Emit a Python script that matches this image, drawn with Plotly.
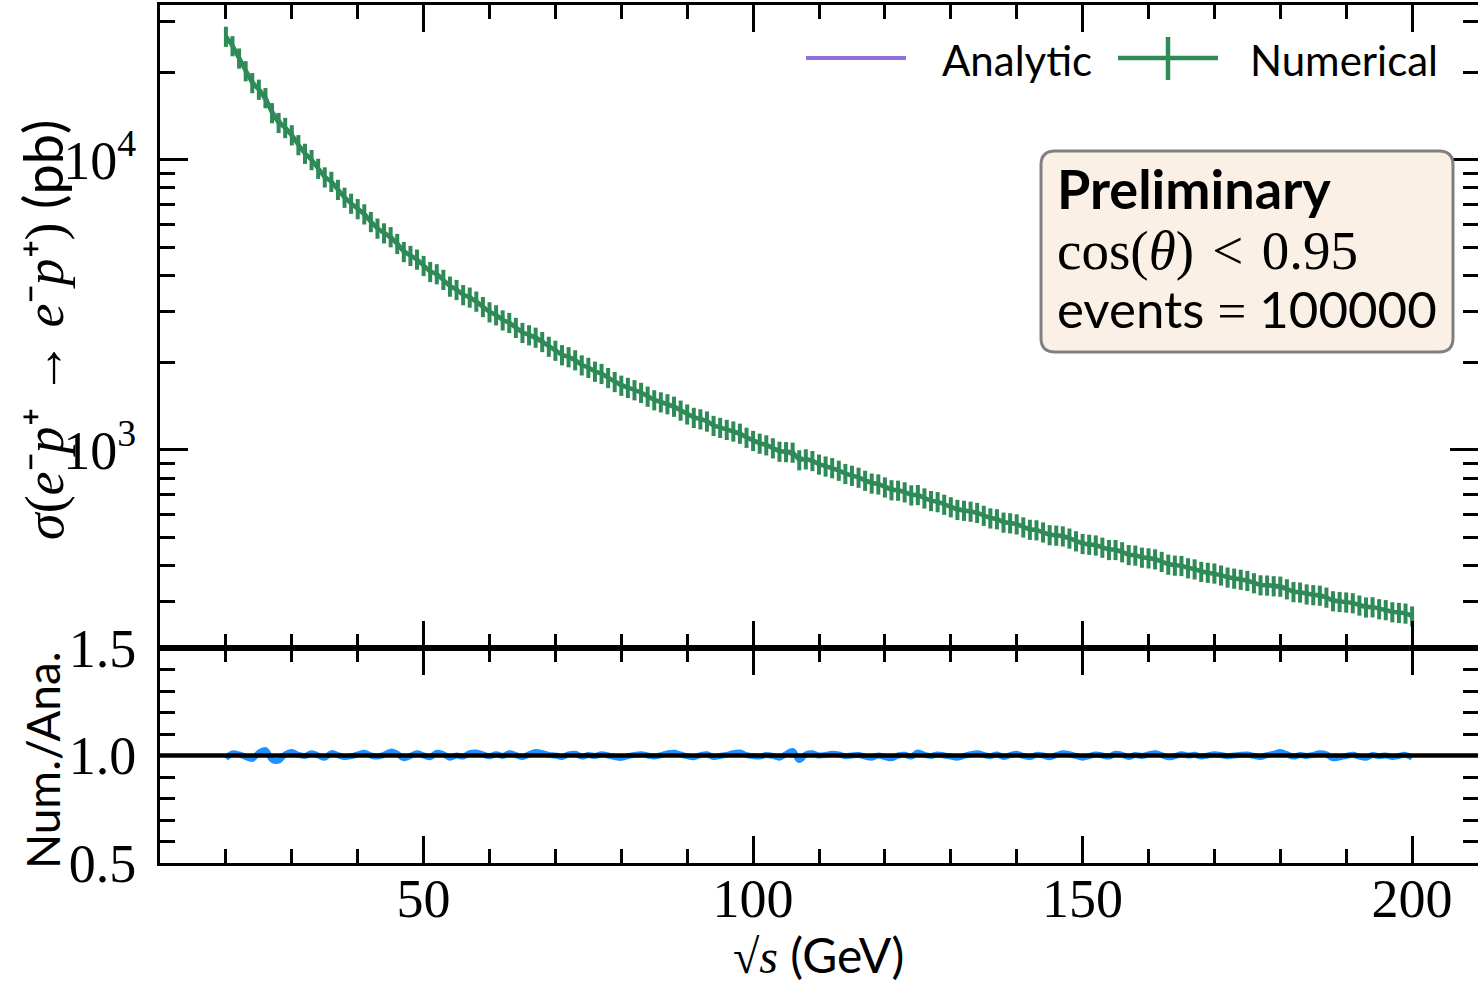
import plotly.graph_objects as go
from plotly.subplots import make_subplots

# sqrt(s) in GeV, one point per GeV
energies = list(range(20, 201))

# analytic cross section (pb)
sigma_analytic = [
    27000, 24490, 22314, 20416, 18750, 17280, 15976, 14815, 13776, 12842,
    12000, 11238, 10547, 9917, 9343, 8816, 8333, 7889, 7479, 7101,
    6750, 6425, 6122, 5841, 5579, 5333, 5104, 4889, 4688, 4498,
    4320, 4152, 3994, 3845, 3704, 3570, 3444, 3324, 3210, 3103,
    3000, 2902, 2810, 2721, 2637, 2556, 2479, 2406, 2336, 2268,
    2204, 2142, 2083, 2027, 1972, 1920, 1870, 1822, 1775, 1731,
    1688, 1646, 1606, 1568, 1531, 1495, 1460, 1427, 1395, 1363,
    1333, 1304, 1276, 1249, 1222, 1197, 1172, 1148, 1125, 1102,
    1080, 1059, 1038, 1018, 998.5, 979.6, 961.2, 943.3, 925.9, 909.0,
    892.6, 876.5, 861.0, 845.8, 831.0, 816.6, 802.6, 789.0, 775.6, 762.6,
    750.0, 737.7, 725.6, 713.9, 702.4, 691.2, 680.3, 669.6, 659.2, 649.0,
    639.1, 629.3, 619.8, 610.5, 601.5, 592.6, 583.9, 575.4, 567.1, 559.0,
    551.0, 543.2, 535.6, 528.1, 520.8, 513.7, 506.7, 499.8, 493.1, 486.5,
    480.0, 473.7, 467.5, 461.4, 455.4, 449.5, 443.8, 438.2, 432.6, 427.2,
    421.9, 416.6, 411.5, 406.5, 401.5, 396.7, 391.9, 387.3, 382.7, 378.1,
    373.7, 369.3, 365.1, 360.9, 356.7, 352.7, 348.7, 344.7, 340.9, 337.1,
    333.3, 329.7, 326.0, 322.5, 319.0, 315.6, 312.2, 308.8, 305.6, 302.3,
    299.2, 296.0, 293.0, 289.9, 287.0, 284.0, 281.1, 278.3, 275.5, 272.7,
    270.0,
]

# numerical / analytic ratio (bottom panel)
ratio = [
    0.987, 1.010, 1.005, 0.993, 0.984, 1.013, 1.025, 0.981, 0.976, 1.006,
    1.016, 1.003, 0.998, 1.010, 1.000, 0.990, 1.011, 1.002, 0.993, 0.997,
    1.005, 1.013, 1.000, 0.995, 1.003, 1.018, 1.008, 0.987, 0.998, 1.010,
    1.000, 0.992, 1.013, 1.006, 0.990, 1.000, 0.995, 1.011, 1.014, 1.005,
    0.997, 1.006, 0.998, 1.010, 1.002, 0.993, 1.005, 1.016, 1.011, 1.003,
    1.000, 0.993, 1.005, 1.008, 0.995, 1.002, 0.998, 1.006, 1.000, 0.993,
    0.989, 0.997, 1.003, 1.006, 1.000, 0.995, 1.002, 1.010, 1.013, 1.005,
    0.997, 0.992, 1.002, 1.006, 0.993, 0.998, 1.003, 1.011, 1.014, 1.002,
    0.997, 0.995, 1.002, 0.998, 0.990, 1.006, 1.021, 0.979, 1.005, 1.010,
    1.000, 1.003, 1.008, 1.005, 0.997, 1.000, 1.002, 0.995, 0.990, 1.000,
    0.993, 0.987, 1.000, 1.003, 0.995, 1.014, 1.003, 0.998, 1.005, 1.000,
    0.995, 0.990, 0.998, 1.006, 1.011, 1.003, 0.997, 1.005, 0.993, 1.002,
    1.008, 0.998, 0.993, 1.003, 1.000, 0.992, 1.002, 1.010, 1.006, 0.998,
    0.990, 0.997, 1.005, 1.000, 0.995, 1.008, 1.003, 0.993, 1.002, 0.998,
    1.005, 1.010, 1.002, 0.992, 0.997, 1.006, 1.000, 1.003, 0.995, 1.000,
    1.006, 1.002, 0.997, 1.000, 1.003, 1.005, 0.998, 0.993, 1.002, 1.008,
    1.016, 1.006, 0.995, 1.002, 0.998, 1.003, 1.010, 1.005, 0.987, 0.992,
    0.998, 1.003, 0.995, 0.990, 1.002, 0.997, 1.000, 0.993, 0.998, 1.003,
    0.990,
]

sigma_numerical = [a * r for a, r in zip(sigma_analytic, ratio)]
rel_error_pct = 8.0

W, H = 1478, 983
L, R, T, B = 160, 0, 5, 120
PW, PH = W - L - R, H - T - B

def px(x):
    return (x - L) / PW

def py(y):
    return (H - B - y) / PH

serif = "Liberation Serif"
sans = "Lato"
green = "#2e8b57"
purple = "#9370db"
blue = "#1e90ff"

fig = make_subplots(rows=2, cols=1, shared_xaxes=True, vertical_spacing=0,
                    row_heights=[643, 215])

fig.add_trace(go.Scatter(x=energies, y=sigma_analytic, mode="lines",
                         line=dict(color=purple, width=3), name="Analytic"), row=1, col=1)
fig.add_trace(go.Scatter(
    x=energies, y=sigma_numerical, mode="lines",
    line=dict(color=green, width=4.5), name="Numerical",
    error_y=dict(type="percent", value=rel_error_pct, color=green, thickness=4, width=0),
), row=1, col=1)

fig.add_trace(go.Scatter(x=energies, y=ratio, mode="lines",
                         line=dict(color=blue, width=6, shape="spline")), row=2, col=1)

axis_common = dict(showline=True, linecolor="black", linewidth=3, mirror="allticks",
                   ticks="inside", tickcolor="black", tickwidth=2.5, showgrid=False,
                   zeroline=False, automargin=False)

fig.update_xaxes(range=[10, 210], tick0=0, dtick=50, ticklen=27,
                 minor=dict(dtick=10, ticks="inside", ticklen=14, tickwidth=2.5, tickcolor="black"),
                 tickfont=dict(family=serif, size=54, color="black"),
                 ticklabelstandoff=-14,
                 **axis_common)
fig.update_xaxes(showticklabels=False, row=1, col=1)

minor_log = [200, 300, 400, 500, 600, 700, 800, 900,
             2000, 3000, 4000, 5000, 6000, 7000, 8000, 9000, 20000, 30000]
fig.update_yaxes(type="log", range=[2.317, 4.534],
                 tickvals=[1000, 10000], ticktext=["10<sup>3</sup>", "10<sup>4</sup>"],
                 ticklen=28,
                 minor=dict(tickvals=minor_log, ticks="inside", ticklen=15, tickwidth=2.5,
                            tickcolor="black"),
                 tickfont=dict(family=serif, size=54, color="black"),
                 ticklabelstandoff=10,
                 row=1, col=1, **axis_common)
fig.update_yaxes(range=[0.5, 1.5], tickvals=[0.5, 1.0, 1.5], ticktext=["0.5", "1.0", "1.5"],
                 ticklen=28,
                 minor=dict(dtick=0.1, tick0=0.5, ticks="inside", ticklen=15, tickwidth=2.5,
                            tickcolor="black"),
                 tickfont=dict(family=serif, size=54, color="black"),
                 ticklabelstandoff=10,
                 row=2, col=1, **axis_common)

# reference line at 1 in ratio panel
fig.add_shape(type="line", xref="paper", yref="y2", x0=0, x1=1, y0=1, y1=1,
              line=dict(color="black", width=4.5), layer="above")

# legend drawn by hand
fig.add_shape(type="line", xref="paper", yref="paper", x0=px(806), x1=px(906),
              y0=py(58), y1=py(58), line=dict(color=purple, width=4))
fig.add_shape(type="line", xref="paper", yref="paper", x0=px(1118), x1=px(1218),
              y0=py(58), y1=py(58), line=dict(color=green, width=4.5))
fig.add_shape(type="line", xref="paper", yref="paper", x0=px(1168), x1=px(1168),
              y0=py(37), y1=py(80), line=dict(color=green, width=4.5))
fig.add_annotation(x=px(940), y=py(60), xref="paper", yref="paper", xanchor="left",
                   yanchor="middle", text="Analytic", showarrow=False,
                   font=dict(family=sans, size=42, color="black"))
fig.add_annotation(x=px(1248), y=py(60), xref="paper", yref="paper", xanchor="left",
                   yanchor="middle", text="Numerical", showarrow=False,
                   font=dict(family=sans, size=42, color="black"))

# info box with rounded corners
x0, x1, y0, y1 = px(1041), px(1453), py(352), py(151)
rx, ry = 14 / PW, 14 / PH
path = (f"M {x0+rx},{y0} L {x1-rx},{y0} Q {x1},{y0} {x1},{y0+ry} "
        f"L {x1},{y1-ry} Q {x1},{y1} {x1-rx},{y1} L {x0+rx},{y1} "
        f"Q {x0},{y1} {x0},{y1-ry} L {x0},{y0+ry} Q {x0},{y0} {x0+rx},{y0} Z")
fig.add_shape(type="path", path=path, xref="paper", yref="paper",
              fillcolor="#faf0e6", line=dict(color="#808080", width=3), layer="above")
fig.add_annotation(x=px(1055), y=py(188), xref="paper", yref="paper", xanchor="left",
                   yanchor="middle", text="<b>Preliminary</b>", showarrow=False,
                   font=dict(family=sans, size=54, color="black"))
fig.add_annotation(x=px(1055), y=py(250), xref="paper", yref="paper", xanchor="left",
                   yanchor="middle", text="cos(<i>θ</i>)\u2004&lt;\u20040.95", showarrow=False,
                   font=dict(family=serif, size=55, color="black"))
fig.add_annotation(x=px(1055), y=py(308), xref="paper", yref="paper", xanchor="left",
                   yanchor="middle",
                   text=f"events <span style='font-family:{serif}'>=</span> 100000",
                   showarrow=False, font=dict(family=sans, size=51, color="black"))

# axis titles
fig.add_annotation(x=px(42), y=py(330), xref="paper", yref="paper", textangle=-90,
                   xanchor="center", yanchor="middle", showarrow=False,
                   text=(f"<i>σ</i>(<i>e</i>⁻<i>p</i>⁺ → <i>e</i>⁻<i>p</i>⁺) "
                         f"<span style='font-family:{sans}'>(pb)</span>"),
                   font=dict(family=serif, size=54, color="black"))
fig.add_annotation(x=px(42), y=py(760), xref="paper", yref="paper", textangle=-90,
                   xanchor="center", yanchor="middle", showarrow=False,
                   text="Num./Ana.", font=dict(family=sans, size=46, color="black"))
fig.add_annotation(x=px(818), y=py(955), xref="paper", yref="paper",
                   xanchor="center", yanchor="middle", showarrow=False,
                   text=f"<span style='font-family:{serif}'>√<i>s</i></span> (GeV)",
                   font=dict(family=sans, size=48, color="black"))

fig.update_layout(width=W, height=H, margin=dict(l=L, r=R, t=T, b=B),
                  plot_bgcolor="white", paper_bgcolor="white", showlegend=False)

# drop the browser's default body margin so the figure sits at the page corner
fig.write_html("out.html", config={"displayModeBar": False},
               post_script="document.body.style.margin = '0';")
